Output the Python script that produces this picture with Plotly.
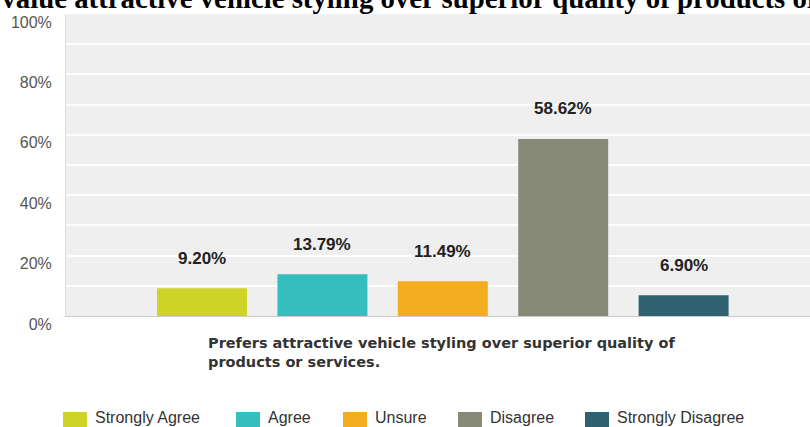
import plotly.graph_objects as go

# ---------------- data ----------------
categories = ["Strongly Agree", "Agree", "Unsure", "Disagree", "Strongly Disagree"]
values = [9.20, 13.79, 11.49, 58.62, 6.90]
colors = ["#cdd327", "#35bebe", "#f5ad20", "#878a77", "#2f6270"]
y_tick_vals = [0, 20, 40, 60, 80, 100]
y_tick_text = ["0%", "20%", "40%", "60%", "80%", "100%"]
y_minor_vals = [10, 30, 50, 70, 90]
question = "I value attractive vehicle styling over superior quality of products or services."
axis_label = "Prefers attractive vehicle styling over superior quality of<br>products or services."

# ---------------- layout constants ----------------
W, H = 810, 427
ML, MR, MT, MB = 66, 0, 14, 111
PW = W - ML - MR
PH = H - MT - MB


def px_x(px):
    return (px - ML) / PW


def px_y(py):
    return (H - MB - py) / PH


legend_left_px = [63, 236, 343, 458, 585]

fig = go.Figure()
for cat, val, col in zip(categories, values, colors):
    fig.add_trace(go.Bar(
        x=[cat], y=[val], name=cat,
        marker=dict(color=col, line=dict(width=0)),
        showlegend=False,
        hovertemplate="%{x}: %{y:.2f}%<extra></extra>",
    ))
    fig.add_annotation(
        x=cat, y=val, xref="x", yref="y",
        text=f"{val:.2f}%", showarrow=False,
        yanchor="middle", yshift=30,
        font=dict(family="Liberation Sans, Arial", size=17, color="#222222", weight="bold"),
    )

# manual legend (wide swatches like the reference)
for cat, col, lx in zip(categories, colors, legend_left_px):
    fig.add_shape(
        type="rect", xref="paper", yref="paper",
        x0=px_x(lx), x1=px_x(lx + 24), y0=px_y(429), y1=px_y(412),
        fillcolor=col, line=dict(width=0), layer="above",
    )
    fig.add_annotation(
        xref="paper", yref="paper", x=px_x(lx + 30), y=px_y(417.5),
        xanchor="left", yanchor="middle", text=cat, showarrow=False,
        font=dict(family="Liberation Sans, Arial", size=16, color="#333333"),
    )

# axis label (left-aligned two lines)
fig.add_annotation(
    xref="paper", yref="paper", x=px_x(441.5), y=px_y(352.5),
    xanchor="center", yanchor="middle", align="left",
    text=axis_label, showarrow=False,
    font=dict(family="DejaVu Sans", size=14.5, color="#333333", weight="bold"),
)

# clipped title
fig.add_annotation(
    xref="paper", yref="paper", x=px_x(-19), y=px_y(-1.5),
    xanchor="left", yanchor="middle",
    text=f"<b>{question}</b>", showarrow=False,
    font=dict(family="Liberation Serif, Times New Roman", size=28.8, color="#000000"),
)

fig.update_layout(
    width=W, height=H,
    margin=dict(l=ML, r=MR, t=MT, b=MB, pad=0),
    paper_bgcolor="white",
    plot_bgcolor="#efefef",
    barmode="overlay",
    bargap=0.2525,
    xaxis=dict(
        type="category", categoryorder="array", categoryarray=categories,
        range=[-1.13, 5.05], showticklabels=False, showgrid=False,
        showline=True, linecolor="#cccccc", linewidth=1, ticks="",
        zeroline=False, fixedrange=True,
    ),
    yaxis=dict(
        range=[0, 100], tickvals=y_tick_vals, ticktext=y_tick_text,
        showgrid=True, gridcolor="white", gridwidth=1.5,
        minor=dict(tickvals=y_minor_vals, showgrid=True, gridcolor="white", gridwidth=1.5),
        showline=True, linecolor="#dddddd", linewidth=1, ticks="",
        zeroline=False, fixedrange=True,
        tickfont=dict(family="Liberation Sans, Arial", size=16, color="#555555"),
        ticklabelstandoff=10, ticklabelshift=8,
    ),
    showlegend=False,
)

fig.write_html(
    "out.html",
    config={"displayModeBar": False},
    post_script="document.body.style.margin='0';document.body.style.overflow='hidden';",
)
